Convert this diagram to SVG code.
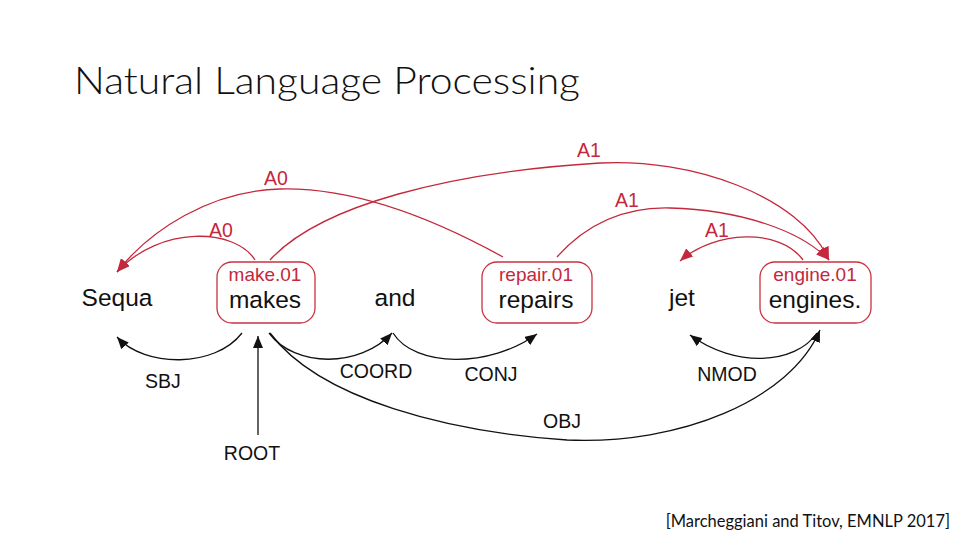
<svg xmlns="http://www.w3.org/2000/svg" width="960" height="540" viewBox="0 0 960 540">
<defs>
<style>
.word{font-family:"Liberation Sans",Arial,sans-serif;font-size:24.5px;fill:#111;text-anchor:middle}
.sense{font-family:"Liberation Sans",Arial,sans-serif;font-size:19px;fill:#c4283c;text-anchor:middle}
.lbl{font-family:"Liberation Sans",Arial,sans-serif;font-size:19.5px;fill:#111;text-anchor:middle}
.rlbl{font-family:"Liberation Sans",Arial,sans-serif;font-size:19.5px;fill:#c4283c;text-anchor:middle}
.box{fill:#fff;stroke:#c8323f;stroke-width:1.3}
.red{fill:none;stroke:#c4283c;stroke-width:1.3;marker-end:url(#ar)}
.blk{fill:none;stroke:#111;stroke-width:1.3;marker-end:url(#ab)}
</style>
<marker id="ar" viewBox="0 0 12 10" refX="12" refY="5" markerWidth="13" markerHeight="11" markerUnits="userSpaceOnUse" orient="auto"><path d="M0,0 L12,5 L0,10 z" fill="#c4283c"/></marker>
<marker id="ab" viewBox="0 0 12 10" refX="12" refY="5" markerWidth="12" markerHeight="10" markerUnits="userSpaceOnUse" orient="auto"><path d="M0,0 L12,5 L0,10 z" fill="#111"/></marker>
</defs>
<rect width="960" height="540" fill="#fff"/>
<text x="74" y="94" font-family="Lato,'Open Sans',sans-serif" font-weight="300" font-size="38" fill="#111" textLength="506" lengthAdjust="spacingAndGlyphs">Natural Language Processing</text>
<text x="950" y="527" font-family="Lato,'Open Sans',sans-serif" font-size="16.5" fill="#111" text-anchor="end">[Marcheggiani and Titov, EMNLP 2017]</text>

<g id="connectors">
<path class="red" d="M255,260 C235,228 160,225 117,272"/>
<path class="red" d="M503,257 C445,225 360,187 280,189 C210,191 150,230 117,272"/>
<path class="red" d="M270,260 C320,205 450,172 600,163 C690,158 800,195 829,260"/>
<path class="red" d="M557,257 C590,220 630,207 670,208 C740,210 800,230 829,260"/>
<path class="red" d="M803,260 C780,228 715,230 680,261"/>
<path class="blk" d="M242,333 C215,368 145,368 117,337"/>
<path class="blk" d="M258,435 L258,336"/>
<path class="blk" d="M269,333 C295,368 360,368 392,333"/>
<path class="blk" d="M393,333 C415,368 490,368 537,334"/>
<path class="blk" d="M817,333 C795,365 735,368 690,335"/>
<path class="blk" d="M270,333 C320,400 450,432 567,440 C680,445 790,400 820,330"/>
<text class="rlbl" x="221" y="237">A0</text>
<text class="rlbl" x="276" y="185">A0</text>
<text class="rlbl" x="589" y="157">A1</text>
<text class="rlbl" x="627" y="207">A1</text>
<text class="rlbl" x="717" y="237">A1</text>
<text class="lbl" x="163" y="388">SBJ</text>
<text class="lbl" x="252" y="460">ROOT</text>
<text class="lbl" x="376" y="378">COORD</text>
<text class="lbl" x="491" y="381">CONJ</text>
<text class="lbl" x="727" y="381">NMOD</text>
<text class="lbl" x="562" y="428">OBJ</text>
</g>

<g id="n-sequa"><text class="word" x="117" y="306">Sequa</text></g>
<g id="n-makes">
<rect class="box" x="217" y="262" width="98" height="61" rx="15"/>
<text class="sense" x="265" y="281">make.01</text>
<text class="word" x="265" y="308">makes</text>
</g>
<g id="n-and"><text class="word" x="395" y="306">and</text></g>
<g id="n-repairs">
<rect class="box" x="482" y="262" width="110" height="61" rx="15"/>
<text class="sense" x="536" y="281">repair.01</text>
<text class="word" x="536" y="308">repairs</text>
</g>
<g id="n-jet"><text class="word" x="682" y="306">jet</text></g>
<g id="n-engines">
<rect class="box" x="760" y="262" width="111" height="61" rx="15"/>
<text class="sense" x="815" y="281">engine.01</text>
<text class="word" x="815" y="308">engines.</text>
</g>
</svg>
